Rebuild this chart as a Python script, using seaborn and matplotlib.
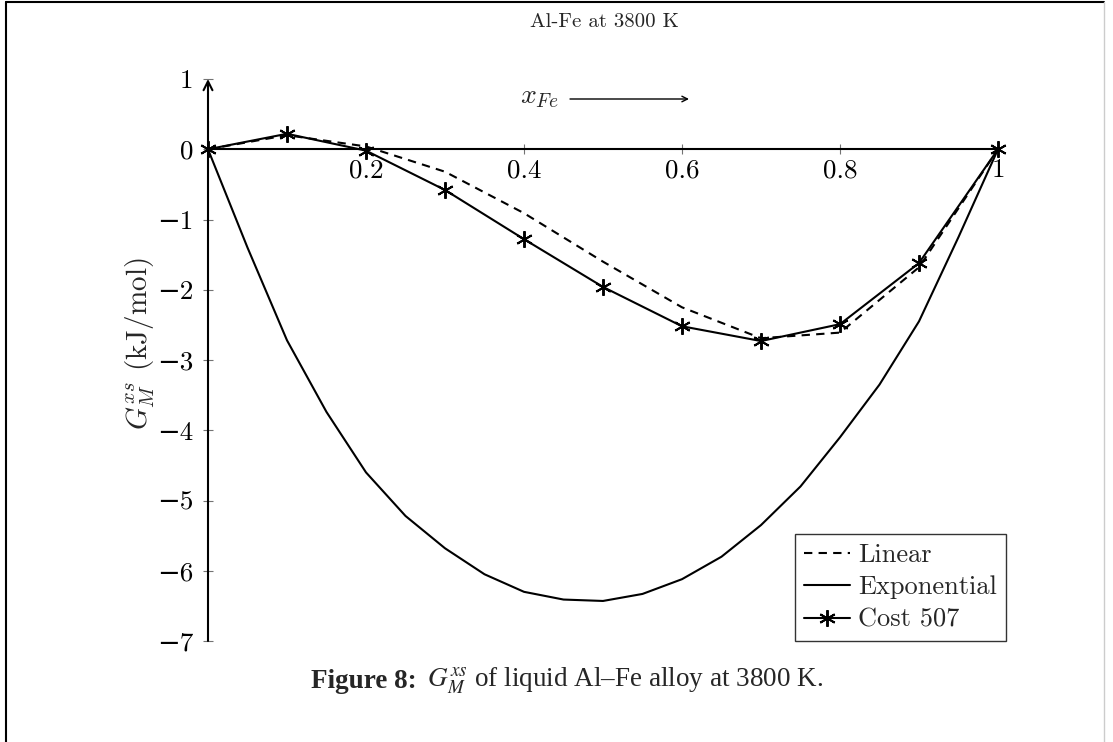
import matplotlib
matplotlib.use("Agg")
import matplotlib.pyplot as plt
from matplotlib.lines import Line2D
import seaborn as sns
import numpy as np

# ---- data ----
x_frac = [0.0, 0.1, 0.2, 0.3, 0.4, 0.5, 0.6, 0.7, 0.8, 0.9, 1.0]
linear = [0.0, 0.20, 0.04, -0.32, -0.91, -1.60, -2.25, -2.69, -2.61, -1.68, 0.0]
cost507 = [0.0, 0.22, -0.02, -0.58, -1.28, -1.96, -2.52, -2.73, -2.49, -1.62, 0.0]
x_exp = [0.0, 0.05, 0.1, 0.15, 0.2, 0.25, 0.3, 0.35, 0.4, 0.45, 0.5,
         0.55, 0.6, 0.65, 0.7, 0.75, 0.8, 0.85, 0.9, 0.95, 1.0]
exponential = [0.0, -1.40, -2.72, -3.74, -4.60, -5.22, -5.68, -6.05, -6.30, -6.41, -6.43,
               -6.33, -6.12, -5.80, -5.35, -4.80, -4.10, -3.35, -2.45, -1.25, 0.0]

xticks = [0.2, 0.4, 0.6, 0.8, 1.0]
xtick_labels = ["0.2", "0.4", "0.6", "0.8", "1"]
yticks = [-7, -6, -5, -4, -3, -2, -1, 0, 1]
ytick_labels = ["−7", "−6", "−5", "−4", "−3", "−2", "−1", "0", "1"]

sns.set_theme(style="white")
plt.rcParams["font.family"] = ["cmr10", "DejaVu Serif"]
plt.rcParams["mathtext.fontset"] = "cm"
plt.rcParams["axes.unicode_minus"] = True

W, H = 1113, 742
fig = plt.figure(figsize=(W / 100, H / 100), dpi=100)
ax = fig.add_axes([208 / W, 1 - 641 / H, 790 / W, 562 / H])
ax.set_facecolor("white")

ax.set_xlim(0, 1)
ax.set_ylim(-7, 1)

sns.lineplot(x=x_frac, y=linear, ax=ax, color="black", lw=1.5, linestyle=(0, (4, 3)),
             label="Linear", clip_on=False)
sns.lineplot(x=x_exp, y=exponential, ax=ax, color="black", lw=1.5,
             label="Exponential", clip_on=False)
sns.lineplot(x=x_frac, y=cost507, ax=ax, color="black", lw=1.5, marker=(6, 2, 0),
             markersize=12, markeredgewidth=1.4, markeredgecolor="black",
             label="Cost 507", clip_on=False)

# axes lines
for s in ["top", "right", "left"]:
    ax.spines[s].set_visible(False)
ax.spines["bottom"].set_position(("data", 0))
ax.spines["bottom"].set_linewidth(1.5)
ax.spines["bottom"].set_color("black")
ax.annotate("", xy=(0, 1), xytext=(0, -7), xycoords="data",
            arrowprops=dict(arrowstyle="->", lw=1.5, color="black",
                            shrinkA=0, shrinkB=0, mutation_scale=16),
            annotation_clip=False)

ax.set_xticks(xticks)
ax.set_xticklabels(xtick_labels, fontsize=19.5)
ax.set_yticks(yticks)
ax.set_yticklabels(ytick_labels, fontsize=19.5)
ax.tick_params(axis="both", direction="inout", length=7, width=0.8, color="0.45",
               labelcolor="black")
ax.tick_params(axis="x", pad=3, bottom=True)
ax.tick_params(axis="y", pad=7, left=True)
for lab in ax.get_xticklabels() + ax.get_yticklabels():
    lab.set_family(["cmr10", "DejaVu Serif"])
ax.grid(False)

# y label
fig.text(140 / W, 1 - 344 / H, r"$G_M^{xs}$ (kJ/mol)", rotation=90, ha="center",
         va="center", fontsize=21)

# title
fig.text(604 / W, 1 - 22 / H, "Al-Fe at 3800 K", ha="center", va="center", fontsize=15)

# x_Fe arrow label
fig.text(539 / W, 1 - 97 / H, r"$x_{Fe}$", ha="center", va="center", fontsize=20)
ax.annotate("", xy=(689 / W, 1 - 99 / H), xytext=(570 / W, 1 - 99 / H),
            xycoords="figure fraction",
            arrowprops=dict(arrowstyle="->", lw=1.0, color="black", shrinkA=0, shrinkB=0,
                            mutation_scale=10))

# legend
leg = ax.legend(loc="lower right", bbox_to_anchor=(1006 / W, 1 - 641 / H),
                bbox_transform=fig.transFigure, fontsize=19, frameon=True, fancybox=False,
                edgecolor="black", handlelength=1.75, handletextpad=0.3,
                borderpad=0.35, labelspacing=0.33, borderaxespad=0)
leg.get_frame().set_linewidth(1.0)
for t in leg.get_texts():
    t.set_family(["cmr10", "DejaVu Serif"])

# caption: bold part and regular part placed side by side
cap_family = ["Liberation Serif", "DejaVu Serif"]
cap_size = 19.5
cap_y = 1 - 681 / H
t1 = fig.text(0, cap_y, "Figure 8:", ha="left", va="center", fontsize=cap_size,
              family=cap_family, weight="bold")
t2 = fig.text(0, cap_y, r" $G_M^{xs}$ of liquid Al–Fe alloy at 3800 K.", ha="left",
              va="center", fontsize=cap_size, family=cap_family, math_fontfamily="stix")
fig.canvas.draw()
r = fig.canvas.get_renderer()
w1 = t1.get_window_extent(r).width
w2 = t2.get_window_extent(r).width
x0 = 567 - (w1 + w2 + 4) / 2
t1.set_x(x0 / W)
t2.set_x((x0 + w1 + 4) / W)

# page frame
fig.add_artist(Line2D([6 / W, 6 / W], [0, 1 - 2 / H], color="black", lw=1.5,
                      transform=fig.transFigure))
fig.add_artist(Line2D([6 / W, 1104 / W], [1 - 2 / H, 1 - 2 / H], color="black", lw=1.5,
                      transform=fig.transFigure))
fig.add_artist(Line2D([1104 / W, 1104 / W], [0, 1 - 2 / H], color="0.8", lw=1.0,
                      transform=fig.transFigure))

fig.savefig("out.png", dpi=100, facecolor="white")
